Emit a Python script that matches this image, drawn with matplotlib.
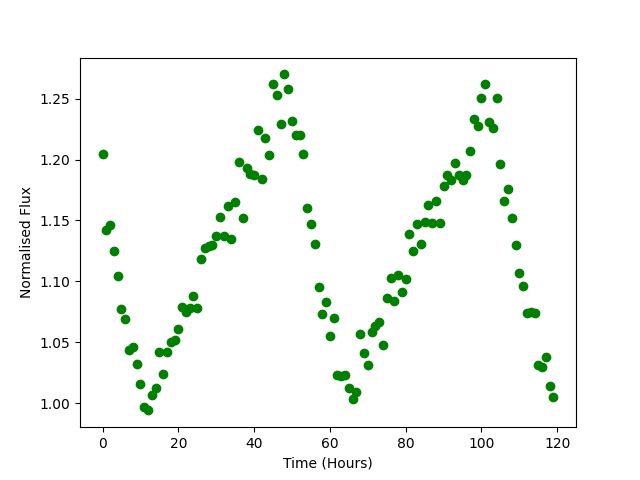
import matplotlib
matplotlib.use("Agg")
import matplotlib.pyplot as plt
import numpy as np

time_hours = np.arange(120)
flux = [
    1.205, 1.142, 1.146, 1.125, 1.104, 1.077, 1.069, 1.044, 1.046, 1.032,
    1.016, 0.997, 0.994, 1.007, 1.012, 1.042, 1.024, 1.042, 1.050, 1.052,
    1.061, 1.079, 1.075, 1.078, 1.088, 1.078, 1.118, 1.127, 1.129, 1.130,
    1.137, 1.153, 1.137, 1.162, 1.135, 1.165, 1.198, 1.152, 1.193, 1.188,
    1.187, 1.224, 1.184, 1.218, 1.204, 1.262, 1.253, 1.229, 1.270, 1.258,
    1.232, 1.220, 1.220, 1.205, 1.160, 1.147, 1.131, 1.095, 1.073, 1.083,
    1.055, 1.070, 1.023, 1.022, 1.023, 1.012, 1.003, 1.009, 1.057, 1.041,
    1.031, 1.058, 1.063, 1.067, 1.048, 1.086, 1.103, 1.084, 1.105, 1.091,
    1.102, 1.139, 1.125, 1.147, 1.131, 1.149, 1.163, 1.148, 1.166, 1.148,
    1.178, 1.187, 1.183, 1.197, 1.187, 1.183, 1.187, 1.207, 1.233, 1.228,
    1.251, 1.262, 1.231, 1.226, 1.251, 1.196, 1.166, 1.176, 1.152, 1.130,
    1.107, 1.096, 1.074, 1.075, 1.074, 1.031, 1.030, 1.038, 1.014, 1.005,
]

fig, ax = plt.subplots(figsize=(6.4, 4.8), dpi=100)
ax.plot(time_hours, flux, 'o', color='green')
ax.set_xlabel('Time (Hours)')
ax.set_ylabel('Normalised Flux')
fig.savefig('out.png')
